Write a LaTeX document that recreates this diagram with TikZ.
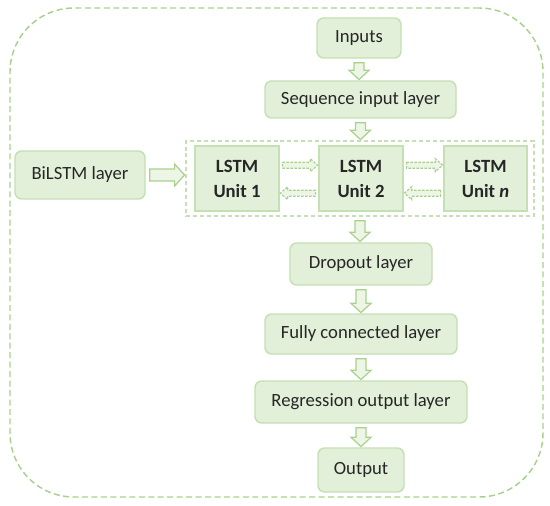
\documentclass[tikz,border=0pt]{standalone}
\usepackage{fontspec}
\setmainfont{Carlito}
\usetikzlibrary{calc}
\definecolor{boxfill}{HTML}{E2F0D9}
\definecolor{boxline}{HTML}{C5E0B4}
\definecolor{arrline}{HTML}{A9D18E}
\definecolor{arrfill}{HTML}{EDF5E6}
\definecolor{txt}{HTML}{262626}
\newcommand\pxw[1]{#1*0.75pt}
\newcommand\blockdown[2]{%
  \path[blockarr] let \p1=(#1.south), \p2=(#2.north) in
    (\x1-3.75pt,\y1-3pt) -- (\x1+3.75pt,\y1-3pt) -- (\x1+3.75pt,\y2+7.5pt)
    -- (\x1+7.5pt,\y2+7.5pt) -- (\x1,\y2+0.5pt) -- (\x1-7.5pt,\y2+7.5pt)
    -- (\x1-3.75pt,\y2+7.5pt) -- cycle;}
% #1 from node, #2 to node, #3 vertical offset (pt), #4 style
\newcommand\blockright[4]{%
  \path[#4] let \p1=(#1.east), \p2=(#2.west), \n1={#3} in
    (\x1+2pt,\y1+\n1+2.25pt) -- (\x2-6pt,\y1+\n1+2.25pt) -- (\x2-6pt,\y1+\n1+4.9pt)
    -- (\x2-0.5pt,\y1+\n1) -- (\x2-6pt,\y1+\n1-4.9pt) -- (\x2-6pt,\y1+\n1-2.25pt)
    -- (\x1+2pt,\y1+\n1-2.25pt) -- cycle;}
\newcommand\blockleft[4]{%
  \path[#4] let \p1=(#1.west), \p2=(#2.east), \n1={#3} in
    (\x1-2pt,\y2+\n1+2.25pt) -- (\x2+6pt,\y2+\n1+2.25pt) -- (\x2+6pt,\y2+\n1+4.9pt)
    -- (\x2+0.5pt,\y2+\n1) -- (\x2+6pt,\y2+\n1-4.9pt) -- (\x2+6pt,\y2+\n1-2.25pt)
    -- (\x1-2pt,\y2+\n1-2.25pt) -- cycle;}
\begin{document}
\begin{tikzpicture}[x=0.75pt,y=-0.75pt,
  every node/.style={text=txt,font=\fontsize{14}{18.75}\selectfont,inner sep=0pt,align=center},
  layerbox/.style={draw=boxline,fill=boxfill,line width=1.1pt,rounded corners=5pt},
  unitbox/.style={draw=boxline,fill=boxfill,line width=1.1pt,font=\fontsize{14}{18.75}\selectfont\bfseries},
  blockarr/.style={draw=arrline,fill=arrfill,line width=0.9pt,line join=miter},
  dasharr/.style={draw=arrline,fill=arrfill,line width=0.9pt,dash pattern=on 1.8pt off 1.2pt},
  outerbox/.style={draw=arrline,line width=1.1pt,dash pattern=on 4.5pt off 2.6pt,rounded corners=48pt},
  contbox/.style={draw=boxline,line width=1.1pt,dash pattern=on 3pt off 2.2pt}]
\useasboundingbox (0,0) rectangle (550,506);
\node[outerbox,minimum width=\pxw{533},minimum height=\pxw{489}] (outer) at (276.5,252.5) {};
\node[layerbox,minimum width=\pxw{84},minimum height=\pxw{40}] (inputs) at (359,38) {Inputs};
\node[layerbox,minimum width=\pxw{191},minimum height=\pxw{37}] (seq) at (360.5,99.5) {Sequence input layer};
\node[contbox,minimum width=\pxw{348},minimum height=\pxw{75}] (cont) at (360,178.5) {};
\node[layerbox,minimum width=\pxw{130},minimum height=\pxw{48}] (bil) at (80,175) {BiLSTM layer};
\node[unitbox,minimum width=\pxw{84},minimum height=\pxw{65}] (u1) at (237,178.5) {LSTM\\Unit 1};
\node[unitbox,minimum width=\pxw{84},minimum height=\pxw{65}] (u2) at (361,178.5) {LSTM\\Unit 2};
\node[unitbox,minimum width=\pxw{83},minimum height=\pxw{65}] (un) at (485.5,178.5) {LSTM\\Unit \textit{n}};
\node[layerbox,minimum width=\pxw{142},minimum height=\pxw{42}] (drop) at (361,264) {Dropout layer};
\node[layerbox,minimum width=\pxw{192},minimum height=\pxw{40}] (fc) at (361,334) {Fully connected layer};
\node[layerbox,minimum width=\pxw{212},minimum height=\pxw{42}] (reg) at (361,402) {Regression output layer};
\node[layerbox,minimum width=\pxw{86},minimum height=\pxw{44}] (out) at (361,470) {Output};
\blockdown{inputs}{seq}
\blockdown{seq}{cont}
\blockdown{cont}{drop}
\blockdown{drop}{fc}
\blockdown{fc}{reg}
\blockdown{reg}{out}
% BiLSTM arrow
\path[blockarr] let \p1=(bil.east), \p2=(cont.west) in
  (\x1+3pt,\y1+4.5pt) -- (\x2-8pt,\y1+4.5pt) -- (\x2-8pt,\y1+8.25pt)
  -- (\x2-0.5pt,\y1) -- (\x2-8pt,\y1-8.25pt) -- (\x2-8pt,\y1-4.5pt)
  -- (\x1+3pt,\y1-4.5pt) -- cycle;
\blockright{u1}{u2}{10pt}{dasharr}
\blockright{u2}{un}{10pt}{dasharr}
\blockleft{u2}{u1}{-11pt}{dasharr}
\blockleft{un}{u2}{-11pt}{dasharr}
\end{tikzpicture}
\end{document}
